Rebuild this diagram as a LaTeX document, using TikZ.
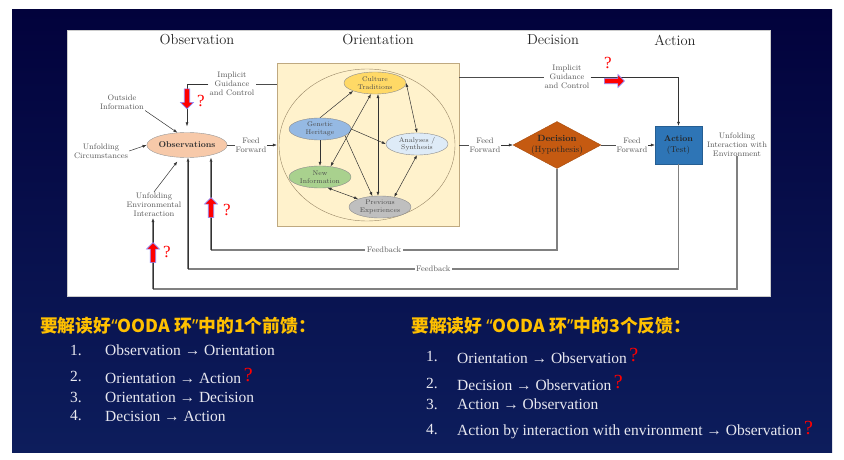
\documentclass[tikz,border=0pt]{standalone}
\usepackage{fontspec}
\usepackage{xcolor}
\usepackage{tikz}
\usetikzlibrary{shapes.geometric, shapes.arrows, arrows.meta, positioning, calc, backgrounds}
\newfontfamily\listfont{Liberation Serif}
\newfontfamily\cjkfont{Noto Sans CJK SC}
\newfontfamily\quotefont{Noto Sans}
\newcommand{\oq}{{\quotefont\bfseries “}}
\newcommand{\cq}{{\quotefont\bfseries ”}}
\newcommand{\redq}{\,{\color{qred}\fontsize{20}{20}\selectfont\raisebox{1.5pt}{?}}}
\definecolor{slidetop}{HTML}{02023C}
\definecolor{slidebot}{HTML}{0D1D5C}
\definecolor{headgold}{HTML}{FFC000}
\definecolor{listwhite}{HTML}{E8E8F0}
\definecolor{qred}{HTML}{FF0000}
\definecolor{obspeach}{HTML}{F7C9A9}
\definecolor{oricream}{HTML}{FFF2CC}
\definecolor{oritan}{HTML}{BFA980}
\definecolor{cultgold}{HTML}{FFD966}
\definecolor{genblue}{HTML}{95B9E3}
\definecolor{anablue}{HTML}{DEEBF7}
\definecolor{newgreen}{HTML}{A9D18E}
\definecolor{prevgray}{HTML}{BFBFBF}
\definecolor{decorange}{HTML}{C55A11}
\definecolor{actblue}{HTML}{2E75B6}
\definecolor{fbgray}{HTML}{808080}

\begin{document}
\begin{tikzpicture}[x=1pt, y=-1pt,
    ttl/.style={font=\fontsize{14.5}{16}\selectfont, text=black!85},
    lbl/.style={font=\fontsize{8}{9}\selectfont, text=black!65, align=center, inner sep=1pt},
    bub/.style={ellipse, draw=black!45, fill=#1, minimum width=62, minimum height=22, inner sep=0pt,
        font=\fontsize{6.8}{7.6}\selectfont, text=black!70, align=center},
    tip/.style={-{Latex[length=4pt,width=3pt]}, draw=black!80, line width=0.5pt},
    dbl/.style={{Latex[length=4pt,width=3pt]}-{Latex[length=4pt,width=3pt]}, draw=black!80, line width=0.5pt},
    fb/.style={draw=fbgray, line width=1.1pt},
    fblbl/.style={lbl, fill=white, inner sep=1.5pt},
    redarr/.style={single arrow, fill=qred, draw=blue!45, line width=0.6pt, minimum height=20, minimum width=13,
        single arrow head extend=2.5pt, inner sep=1.5pt},
    qmark/.style={font=\listfont\fontsize{17}{17}\selectfont, text=qred, inner sep=0pt},
    head/.style={font=\cjkfont\bfseries\fontsize{17.8}{19}\selectfont, text=headgold, anchor=west, inner sep=0pt},
    item/.style={font=\listfont\fontsize{15.5}{17}\selectfont, text=listwhite, anchor=west, inner sep=0pt}
]
\useasboundingbox (0,0) rectangle (844,460);

% slide and picture panel
\fill[white] (0,0) rectangle (844,460);
\shade[top color=slidetop, bottom color=slidebot] (12,10) rectangle (832,452);
\fill[white, draw=black!20] (67,30) rectangle (770,296);

\node[ttl] (tobs) at (197,40) {Observation};
\node[ttl] (tori) at (378,40) {Orientation};
\node[ttl] (tdec) at (553,40) {Decision};
\node[ttl] (tact) at (675,40) {Action};

% observe
\node[ellipse, fill=obspeach, draw=black!40, minimum width=73, minimum height=25, inner sep=0pt,
    font=\bfseries\fontsize{8.5}{10}\selectfont, text=black!80] (obs) at (187,145) {Observations};
\node[lbl] (outinfo) at (122,102) {Outside\\Information};
\node[lbl] (unfcirc) at (101,151) {Unfolding\\Circumstances};
\node[lbl] (unfenv) at (154,205) {Unfolding\\Environmental\\Interaction};
\node[lbl] (igcobs) at (232,84) {Implicit\\Guidance\\and Control};
\node[lbl] (ffobs) at (251,145) {Feed\\Forward};

% orient
\node[draw=oritan, fill=oricream, minimum width=182, minimum height=163] (oribox) at (368,144.5) {};
\node[ellipse, draw=oritan!80!black, line width=0.4pt, minimum width=176, minimum height=152] (oricirc) at (367,145) {};
\node[bub=cultgold] (cult) at (375,83) {Culture\\Traditions};
\node[bub=genblue] (gen) at (320,129) {Genetic\\Heritage};
\node[bub=anablue] (anal) at (417,144) {Analyses /\\Synthesis};
\node[bub=newgreen] (newi) at (320,177) {New\\Information};
\node[bub=prevgray] (prev) at (380,207) {Previous\\Experiences};

\draw[tip] (gen.north) -- (cult.200);
\draw[tip] (gen.south) -- (newi.north);
\draw[tip] (gen.east) -- (anal.west);
\draw[tip] (gen.-15) -- (prev.125);
\draw[dbl] (cult.250) -- (newi.45);
\draw[dbl] (cult.285) -- (prev.north -| cult.285);
\draw[dbl] (cult.east) -- (anal.north);
\draw[dbl] (newi.-55) -- (prev.160);
\draw[dbl] (anal.south) -- (prev.35);

% decide and act
\node[diamond, fill=decorange, draw=decorange!85!black, minimum width=88, minimum height=47, inner sep=0pt] (dec) at (557,145) {};
\node[font=\fontsize{9}{10.5}\selectfont, text=black!85, align=center] (dectxt) at (dec) {\textbf{Decision}\\(Hypothesis)};
\node[rectangle, fill=actblue, draw=actblue!80!black, minimum width=47, minimum height=38, align=center,
    font=\fontsize{8.5}{10.5}\selectfont, text=black!85] (act) at (678.5,145) {\textbf{Action}\\(Test)};
\node[lbl] (ffori) at (485,145) {Feed\\Forward};
\node[lbl] (ffdec) at (632,145) {Feed\\Forward};
\node[lbl] (igcact) at (567,77) {Implicit\\Guidance\\and Control};
\node[lbl] (unfint) at (737,145) {Unfolding\\Interaction with\\Environment};

% feed forward and guidance
\draw[tip] (outinfo.south east) -- (obs.128);
\draw[tip] (unfcirc.east) -- (obs.west);
\draw[tip, shorten >=5pt] (unfenv.north) -- (obs.242);
\draw[draw=black!70, line width=0.5pt] (oribox.west |- igcobs.east) -- (igcobs.east);
\draw[tip, shorten >=6pt] (igcobs.west) -| (obs.north);
\draw[draw=black!70, line width=0.5pt] (obs.east) -- (ffobs.west);
\draw[tip] (ffobs.east) -- (oribox.west |- ffobs.east);
\draw[draw=black!70, line width=0.5pt] (oribox.east |- ffori.west) -- (ffori.west);
\draw[tip] (ffori.east) -- (dec.west);
\draw[draw=black!70, line width=0.5pt] (dec.east) -- (ffdec.west);
\draw[tip] (ffdec.east) -- (act.west);
\draw[draw=black!70, line width=0.5pt] (oribox.east |- igcact.west) -- (igcact.west);
\draw[tip] (igcact.east) -| (act.north);

% feedback loops
\coordinate (fbdec) at (211,250);
\coordinate (fbact) at (188,269);
\coordinate (fbenv) at (153,289);
\draw[fb] (dec.south) |- (fbdec) node[fblbl, pos=0.75] (fbldec) {Feedback};
\draw[fb] (fbdec) -- ($(fbdec |- obs.south)+(0,4)$);
\draw[tip] (fbdec) -- (fbdec |- obs.south);
\draw[fb] (act.south) |- (fbact) node[fblbl, pos=0.75] (fblact) {Feedback};
\draw[fb] (fbact) -- ($(fbact |- obs.south)+(0,4)$);
\draw[tip] (fbact) -- (fbact |- obs.south);
\draw[fb] ([yshift=2pt]unfint.south) |- (fbenv);
\draw[fb] (fbenv) -- ($(fbenv |- unfenv.south)+(0,4)$);
\draw[tip] (fbenv) -- (fbenv |- unfenv.south);

% red markers
\node[redarr, rotate=-90] (rdobs) at (187,97.5) {};
\node[qmark] (qobs) at (201,101) {?};
\node[redarr] (rdact) at (613,81) {};
\node[qmark] (qact) at (608,63) {?};
\node[redarr, rotate=90] (rudec) at (211,209) {};
\node[qmark] (qdec) at (227,210) {?};
\node[redarr, rotate=90] (ruenv) at (153,254) {};
\node[qmark] (qenv) at (167,252) {?};

% feed forward list
\node[head] (hff) at (40,326) {要解读好\oq OODA 环\cq 中的1个前馈：};
\node[item] (ff1n) at (70,350) {1.};
\node[item] (ff1) at (105,350) {Observation → Orientation};
\node[item] (ff2n) at (70,376) {2.};
\node[item] (ff2) at (105,376) {Orientation → Action\redq};
\node[item] (ff3n) at (70,397) {3.};
\node[item] (ff3) at (105,397) {Orientation → Decision};
\node[item] (ff4n) at (70,416) {4.};
\node[item] (ff4) at (105,416) {Decision → Action};

% feedback list
\node[head] (hfb) at (411,326) {要解读好 \oq OODA 环\cq 中的3个反馈：};
\node[item] (fb1n) at (426,356) {1.};
\node[item] (fb1) at (457,356) {Orientation → Observation\redq};
\node[item] (fb2n) at (426,383) {2.};
\node[item] (fb2) at (457,383) {Decision → Observation\redq};
\node[item] (fb3n) at (426,404) {3.};
\node[item] (fb3) at (457,404) {Action → Observation};
\node[item] (fb4n) at (426,430) {4.};
\node[item] (fb4) at (457,430) {Action by interaction with environment → Observation\redq};

\end{tikzpicture}
\end{document}
